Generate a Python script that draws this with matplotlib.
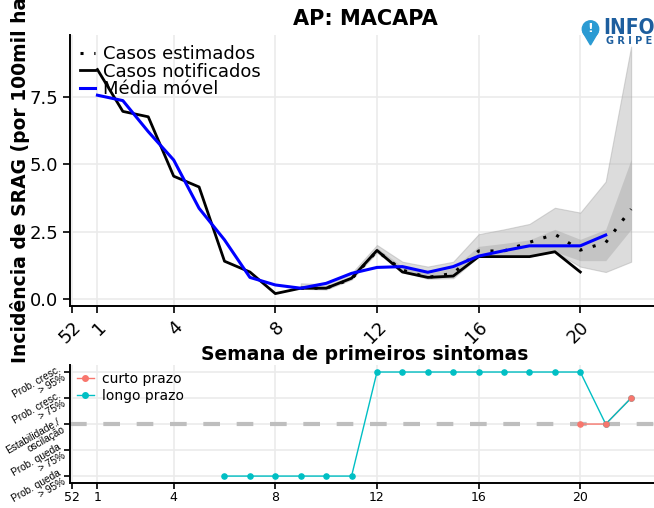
import numpy as np
import matplotlib
matplotlib.use("Agg")
import matplotlib.pyplot as plt
from matplotlib.patches import Circle, Polygon

# ---- data ----
wk_notif = list(range(1, 21))
notificados = [8.5, 6.95, 6.75, 4.55, 4.15, 1.4, 1.0, 0.2, 0.4, 0.4,
               0.77, 1.8, 1.0, 0.8, 0.85, 1.57, 1.57, 1.57, 1.75, 1.0]

wk_mm = list(range(1, 22))
media_movel = [7.55, 7.35, 6.2, 5.15, 3.36, 2.19, 0.8, 0.52, 0.4, 0.58,
               0.95, 1.17, 1.2, 0.99, 1.2, 1.59, 1.79, 1.97, 1.97, 1.97, 2.37]

wk_est = list(range(9, 23))
estimados = [0.4, 0.4, 0.74, 1.78, 1.07, 0.8, 0.95, 1.78, 1.78, 2.1,
             2.4, 1.81, 2.09, 3.33]
ic95_lo = [0.38, 0.35, 0.72, 1.72, 1.0, 0.75, 0.77, 1.57, 1.57, 1.57,
           1.75, 1.2, 1.0, 1.38]
ic95_hi = [0.58, 0.55, 0.95, 2.0, 1.38, 1.2, 1.38, 2.4, 2.58, 2.78,
           3.38, 3.2, 4.35, 9.35]
ic50_lo = [0.39, 0.37, 0.74, 1.75, 1.02, 0.78, 0.8, 1.59, 1.59, 1.59,
           1.75, 1.42, 1.42, 2.58]
ic50_hi = [0.5, 0.5, 0.85, 1.9, 1.2, 0.95, 1.15, 1.95, 2.06, 2.19,
           2.58, 2.21, 2.58, 5.17]

xticks = [0, 1, 4, 8, 12, 16, 20]
xticklabels = ["52", "1", "4", "8", "12", "16", "20"]

wk_longo = list(range(6, 23))
longo = [-2, -2, -2, -2, -2, -2, 2, 2, 2, 2, 2, 2, 2, 2, 2, 0, 1]
wk_curto = [20, 21, 22]
curto = [0, 0, 1]
nivel_labels = ["Prob. queda\n> 95%", "Prob. queda\n> 75%",
                "Estabilidade./\noscilação", "Prob. cresc.\n> 75%",
                "Prob. cresc.\n> 95%"]

grid_c = "#EBEBEB"
cor_curto = "#F8766D"
cor_longo = "#00BFC4"

fig = plt.figure(figsize=(6.54, 5.08), dpi=100)

# ---- top panel ----
ax = fig.add_axes([0.107, 0.3976, 0.893, 0.5335])
ax.fill_between(wk_est, ic95_lo, ic95_hi, color="#B3B3B3", alpha=0.45,
                edgecolor="#A8A8A8", linewidth=0.8, zorder=2)
ax.fill_between(wk_est, ic50_lo, ic50_hi, color="#999999", alpha=0.35,
                linewidth=0, zorder=2)
ax.plot(wk_est, estimados, color="black", linestyle=(0, (1, 3.5)),
        linewidth=2.2, label="Casos estimados", zorder=3)
ax.plot(wk_notif, notificados, color="black", linewidth=2,
        label="Casos notificados", zorder=3)
ax.plot(wk_mm, media_movel, color="#0000FF", linewidth=2.2,
        label="Média móvel", zorder=4)

ax.set_xlim(-0.08, 22.9)
ax.set_ylim(-0.26, 9.78)
ax.set_yticks([0, 2.5, 5.0, 7.5])
ax.set_yticklabels(["0.0", "2.5", "5.0", "7.5"], fontsize=13)
ax.set_xticks(xticks)
ax.set_xticklabels(xticklabels, fontsize=13, rotation=45, ha="right",
                   rotation_mode="anchor")
ax.grid(True, color=grid_c, linewidth=1.2, zorder=0)
ax.set_axisbelow(True)
for s in ["top", "right"]:
    ax.spines[s].set_visible(False)
for s in ["left", "bottom"]:
    ax.spines[s].set_linewidth(1.4)
ax.tick_params(length=5, width=1.2, color="black")
leg = ax.legend(loc="upper left", bbox_to_anchor=(0.0, 1.0), frameon=False,
                fontsize=13, handlelength=0.85, handletextpad=0.45,
                labelspacing=-0.02, borderaxespad=0.15)

fig.text(0.558, 0.962, "AP: MACAPA", ha="center", va="center",
         fontsize=15, fontweight="bold")
fig.text(0.03, 0.285, "Incidência de SRAG (por 100mil habitantes)",
         rotation=90, ha="center", va="bottom", fontsize=13.5,
         fontweight="bold")
fig.text(0.558, 0.303, "Semana de primeiros sintomas", ha="center",
         va="center", fontsize=13.5, fontweight="bold")

# ---- logo ----
tr = fig.dpi_scale_trans
fig.patches.append(Circle((5.905, 4.79), 0.082, transform=tr,
                          color="#2B9BD3"))
fig.patches.append(Polygon([[5.828, 4.76], [5.982, 4.76], [5.905, 4.63]],
                           closed=True, transform=tr, color="#2B9BD3"))
fig.text(5.905, 4.79, "!", transform=tr, ha="center", va="center",
         color="white", fontsize=9, fontweight="bold")
fig.text(6.03, 4.805, "INFO", transform=tr, ha="left", va="center",
         color="#1D5E9E", fontsize=15, fontweight="bold",
         fontstretch="condensed")
fig.text(6.06, 4.665, "G R I P E", transform=tr, ha="left", va="center",
         color="#1D5E9E", fontsize=7, fontweight="bold")

# ---- bottom panel ----
bx = fig.add_axes([0.107, 0.049, 0.893, 0.2325])
bx.axhline(0, color="#BEBEBE", linewidth=3, linestyle=(0, (4, 4)), zorder=1)
bx.plot(wk_curto, curto, color=cor_curto, linewidth=1, zorder=2)
bx.plot(wk_longo, longo, color=cor_longo, linewidth=1, zorder=3)
bx.scatter(wk_longo, longo, color=cor_longo, s=14, zorder=4)
bx.scatter(wk_curto, curto, color=cor_curto, s=14, zorder=5)
bx.plot([], [], color=cor_curto, marker="o", markersize=4, linewidth=1,
        label="curto prazo")
bx.plot([], [], color=cor_longo, marker="o", markersize=4, linewidth=1,
        label="longo prazo")

bx.set_xlim(-0.08, 22.9)
bx.set_ylim(-2.27, 2.27)
bx.set_xticks(xticks)
bx.set_xticklabels(xticklabels, fontsize=9)
bx.set_yticks([-2, -1, 0, 1, 2])
bx.set_yticklabels(nivel_labels, fontsize=7.3, rotation=30, ha="right",
                   rotation_mode="anchor", family="Liberation Sans",
                   linespacing=0.9)
bx.grid(True, color=grid_c, linewidth=1.2, zorder=0)
bx.set_axisbelow(True)
for s in ["top", "right"]:
    bx.spines[s].set_visible(False)
for s in ["left", "bottom"]:
    bx.spines[s].set_linewidth(1.4)
bx.tick_params(length=4, width=1.2, color="black", pad=2)
bx.legend(loc="upper left", frameon=False, fontsize=10, handlelength=1.2,
          handletextpad=0.6, labelspacing=0.2, borderaxespad=0.1)

fig.savefig("out.png", dpi=100)
